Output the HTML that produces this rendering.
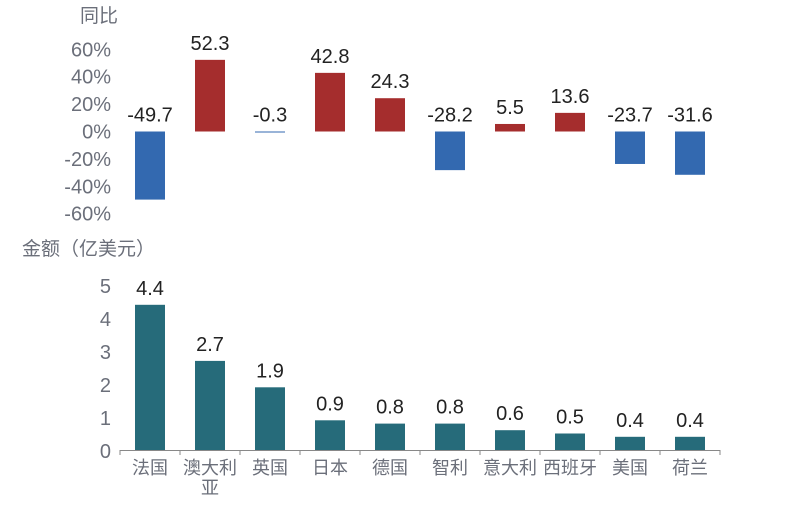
<!DOCTYPE html>
<html><head><meta charset="utf-8"><style>
body{margin:0;background:#fff;width:800px;height:500px;overflow:hidden}
svg text{font-family:"Liberation Sans","Noto Sans CJK SC",sans-serif}
</style></head><body>
<svg id="c" width="800" height="500"></svg>
<script>
const categories=[["法国"],["澳大利","亚"],["英国"],["日本"],["德国"],["智利"],["意大利"],["西班牙"],["美国"],["荷兰"]];
const yoyValues=[-49.7,52.3,-0.3,42.8,24.3,-28.2,5.5,13.6,-23.7,-31.6];
const amountValues=[4.4,2.7,1.9,0.9,0.8,0.8,0.6,0.5,0.4,0.4];
const yoyTicks=[60,40,20,0,-20,-40,-60];
const amountTicks=[0,1,2,3,4,5];
const svg=document.getElementById('c');
const NS='http://www.w3.org/2000/svg';
function mk(t,a,txt){const e=document.createElementNS(NS,t);for(const k in a)e.setAttribute(k,a[k]);if(txt!==undefined)e.textContent=txt;svg.appendChild(e);return e;}
const xc=i=>150+i*60;
const yTop=v=>131.5-v*1.37;
const yBot=v=>450-v*33;
let e=mk('text',{x:80,y:22,'font-size':19,fill:'#6b6f7a'},'同比');

yoyTicks.forEach(t=>{const el=mk('text',{x:111,y:yTop(t)+7,'font-size':20,fill:'#6b6f7a','text-anchor':'end'},t+'%');
});
yoyValues.forEach((v,i)=>{const y0=yTop(0),y1=yTop(v);
const r=mk('rect',{x:xc(i)-15,y:Math.min(y0,y1),width:30,height:Math.max(1,Math.abs(y1-y0)),fill:v>=0?'#a52d2d':'#3369b0'});

const ly=v>=0?y1-10:y0-10;
const t=mk('text',{x:xc(i),y:ly,'font-size':20,fill:'#222','text-anchor':'middle'},v.toFixed(1));
});
e=mk('text',{x:22,y:255,'font-size':19,fill:'#6b6f7a'},'金额（亿美元）');

amountTicks.forEach(t=>{const el=mk('text',{x:111,y:yBot(t)+8,'font-size':20,fill:'#6b6f7a','text-anchor':'end'},t);
});
amountValues.forEach((v,i)=>{const r=mk('rect',{x:xc(i)-15,y:yBot(v),width:30,height:yBot(0)-yBot(v),fill:'#266b7a'});

const t=mk('text',{x:xc(i),y:yBot(v)-10,'font-size':20,fill:'#222','text-anchor':'middle'},v.toFixed(1));
});
e=mk('line',{x1:120,y1:450.5,x2:720,y2:450.5,stroke:'#888','stroke-width':1});

for(let i=0;i<=categories.length;i++){const l=mk('line',{x1:120+i*60,y1:450,x2:120+i*60,y2:455,stroke:'#888'});
}
categories.forEach((c,i)=>{c.forEach((s,j)=>{const t=mk('text',{x:xc(i),y:474+j*20,'font-size':18,fill:'#6b6f7a','text-anchor':'middle'},s);
});});
</script>
</body></html>
